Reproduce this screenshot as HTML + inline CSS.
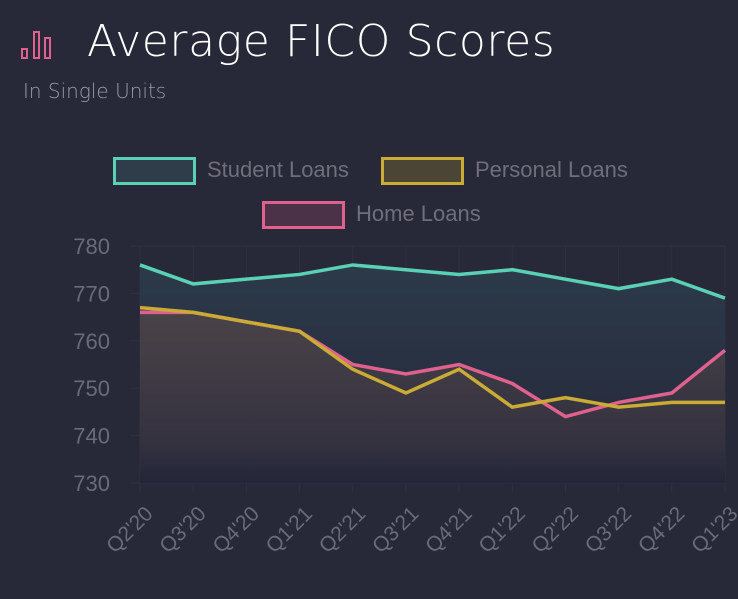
<!DOCTYPE html>
<html><head><meta charset="utf-8"><style>
body{margin:0;width:738px;height:599px;background:#272838;overflow:hidden;font-family:"Liberation Sans",sans-serif;position:relative}
.t{position:absolute;left:87px;top:16px;font-size:44px;color:#fff;font-family:"DejaVu Sans ExtraLight","DejaVu Sans",sans-serif;font-weight:200;letter-spacing:0.6px;white-space:nowrap}
.s{position:absolute;left:23px;top:79px;font-size:20px;color:#9a9ba6;font-family:"DejaVu Sans ExtraLight","DejaVu Sans",sans-serif;font-weight:200;white-space:nowrap}
.lg{position:absolute;height:22px;border:3px solid;box-sizing:content-box;width:77px}
.lt{position:absolute;font-size:22px;color:#6e6f7a}
</style></head><body>
<svg style="position:absolute;left:20px;top:29px" width="36" height="34">
<rect x="2" y="20" width="5" height="9" fill="none" stroke="#e0618e" stroke-width="2"/>
<rect x="14" y="3" width="5" height="26" fill="none" stroke="#e0618e" stroke-width="2"/>
<rect x="25" y="9" width="5" height="20" fill="none" stroke="#e0618e" stroke-width="2"/>
</svg>
<div class="t">Average FICO Scores</div>
<div class="s">In Single Units</div>
<div class="lg" style="left:113px;top:157px;border-color:#5ad1b5;background:#2f3d4a"></div>
<div class="lt" style="left:207px;top:157px">Student Loans</div>
<div class="lg" style="left:381px;top:157px;border-color:#c9ab35;background:#4a4535"></div>
<div class="lt" style="left:475px;top:157px">Personal Loans</div>
<div class="lg" style="left:262px;top:201px;border-color:#e0618e;background:#4b3249"></div>
<div class="lt" style="left:356px;top:201px">Home Loans</div>
<svg id="c" width="738" height="599" style="position:absolute;left:0;top:0">
<defs>
<linearGradient id="gs" x1="0" y1="0" x2="0" y2="1"><stop offset="0" stop-color="#2c3a4a"/><stop offset="1" stop-color="#252738"/></linearGradient>
<linearGradient id="gp" x1="0" y1="0" x2="0" y2="1"><stop offset="0" stop-color="#4a4348"/><stop offset="0.8" stop-color="#363240" stop-opacity="0.6"/><stop offset="1" stop-color="#262738" stop-opacity="0"/></linearGradient>
</defs>
</svg>
<script>
const categories=["Q2'20","Q3'20","Q4'20","Q1'21","Q2'21","Q3'21","Q4'21","Q1'22","Q2'22","Q3'22","Q4'22","Q1'23"];
const studentLoans=[776,772,773,774,776,775,774,775,773,771,773,769];
const personalLoans=[767,766,764,762,754,749,754,746,748,746,747,747];
const homeLoans=[766,766,764,762,755,753,755,751,744,747,749,758];
const yTicks=[730,740,750,760,770,780];
const svg=document.getElementById('c');const NS='http://www.w3.org/2000/svg';
const x0=140,x1=725,yTop=246,yBot=483,vMin=730,vMax=780;
const X=i=>x0+i*(x1-x0)/(categories.length-1);
const Y=v=>yBot-(v-vMin)*(yBot-yTop)/(vMax-vMin);
function mk(t,a){const e=document.createElementNS(NS,t);for(const k in a)e.setAttribute(k,a[k]);svg.appendChild(e);return e;}
yTicks.forEach(v=>{const l=mk('line',{x1:x0-10,x2:x1,y1:Y(v),y2:Y(v),stroke:'#2f3040','stroke-width':1});


const t=mk('text',{x:110,y:Y(v)+8,'text-anchor':'end','font-size':22,fill:'#6a6b78','font-family':'Liberation Sans'});t.textContent=v;

});
categories.forEach((c,i)=>{const l=mk('line',{x1:X(i),x2:X(i),y1:yTop,y2:yBot+10,stroke:'#2f3040','stroke-width':1});


const t=mk('text',{x:0,y:0,'text-anchor':'end','font-size':21,fill:'#6a6b78','font-family':'Liberation Sans',transform:`translate(${X(i)+14},${yBot+32}) rotate(-45)`});t.textContent=c;

});
function area(d,fill,name){const p=d.map((v,i)=>`${X(i)},${Y(v)}`).join(' L');const a=mk('path',{d:`M${X(0)},${yBot} L${p} L${X(d.length-1)},${yBot} Z`,fill:fill});

}
function line(d,col,name){const p=d.map((v,i)=>`${X(i)},${Y(v)}`).join(' L');const l=mk('path',{d:'M'+p,fill:'none',stroke:col,'stroke-width':3.5,'stroke-linejoin':'miter'});

}
area(studentLoans,'url(#gs)','student-area');
area(homeLoans,'url(#gp)','home-area');
area(personalLoans,'url(#gp)','personal-area');
line(homeLoans,'#e0618e','home-line');
line(personalLoans,'#c9ab35','personal-line');
line(studentLoans,'#5ad1b5','student-line');
</script>
</body></html>
